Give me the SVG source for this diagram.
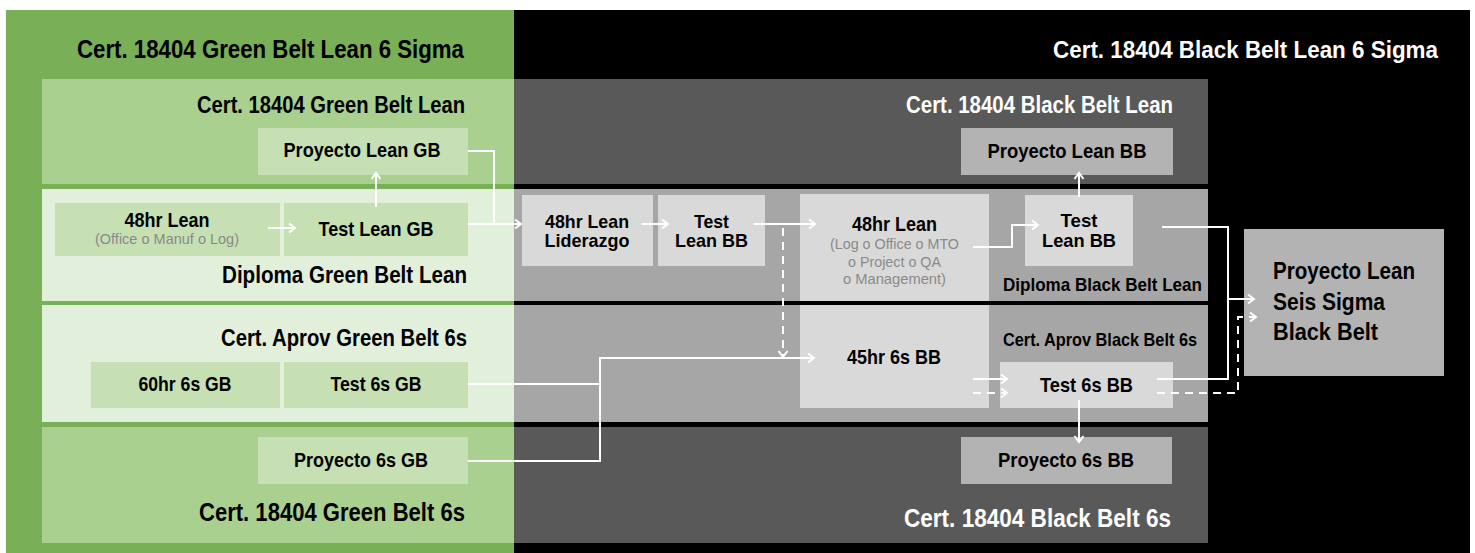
<svg xmlns="http://www.w3.org/2000/svg" width="1475" height="553" viewBox="0 0 1475 553">
<defs>
<marker id="arr" markerUnits="userSpaceOnUse" markerWidth="10" markerHeight="12" refX="8" refY="6" orient="auto">
<path d="M2,1.5 L8,6 L2,10.5" fill="none" stroke="#ffffff" stroke-width="2"/>
</marker>
<style>
text{font-family:"Liberation Sans",Arial,sans-serif;font-weight:bold;}
.t25{font-size:25px;}
.t23{font-size:23px;}
.t21{font-size:21px;}
.t19{font-size:19px;}
.t2l{font-size:19px;}
.t24{font-size:24px;}
.sub{font-size:15px;font-weight:normal;fill:#8a8a8a;}
.w{fill:#ffffff;}
.k{fill:#000000;}
.m{text-anchor:middle;}
.e{text-anchor:end;}
.gn{fill:#C6E0B4;}
.gy{fill:#D9D9D9;}
.gm{fill:#B3B3B3;}
.ln{fill:none;stroke:#ffffff;stroke-width:2;}
.ds{fill:none;stroke:#ffffff;stroke-width:2;stroke-dasharray:8 6;}
</style>
</defs>

<g id="background">
<rect x="514" y="10" width="956" height="543" fill="#000000"/>
<rect x="6" y="10" width="508" height="543" fill="#79AF57"/>
<rect x="42" y="79" width="472" height="105" fill="#A9D08E"/>
<rect x="42" y="189" width="472" height="112" fill="#E2EFDA"/>
<rect x="42" y="305" width="472" height="117" fill="#E2EFDA"/>
<rect x="42" y="427" width="472" height="116" fill="#A9D08E"/>
<rect x="514" y="79" width="694" height="105" fill="#595959"/>
<rect x="514" y="189" width="694" height="112" fill="#A6A6A6"/>
<rect x="514" y="305" width="694" height="117" fill="#A6A6A6"/>
<rect x="514" y="427" width="694" height="116" fill="#595959"/>
</g>

<g id="section-labels">
<text class="t25 k e" x="464" y="58" textLength="387" lengthAdjust="spacingAndGlyphs">Cert. 18404 Green Belt Lean 6 Sigma</text>
<text class="t23 k e" x="465" y="113" textLength="268" lengthAdjust="spacingAndGlyphs">Cert. 18404 Green Belt Lean</text>
<text class="t23 k e" x="467" y="283" textLength="245" lengthAdjust="spacingAndGlyphs">Diploma Green Belt Lean</text>
<text class="t23 k e" x="467" y="346" textLength="246" lengthAdjust="spacingAndGlyphs">Cert. Aprov Green Belt 6s</text>
<text class="t25 k e" x="465" y="521" textLength="266" lengthAdjust="spacingAndGlyphs">Cert. 18404 Green Belt 6s</text>
<text class="t24 w" x="1053" y="58" textLength="385" lengthAdjust="spacingAndGlyphs">Cert. 18404 Black Belt Lean 6 Sigma</text>
<text class="t23 w e" x="1173" y="113" textLength="267" lengthAdjust="spacingAndGlyphs">Cert. 18404 Black Belt Lean</text>
<text class="t19 k" x="1003" y="291" textLength="199" lengthAdjust="spacingAndGlyphs">Diploma Black Belt Lean</text>
<text class="t19 k" x="1003" y="346" textLength="194" lengthAdjust="spacingAndGlyphs">Cert. Aprov Black Belt 6s</text>
<text class="t25 w e" x="1171" y="527" textLength="267" lengthAdjust="spacingAndGlyphs">Cert. 18404 Black Belt 6s</text>
</g>

<g id="n-proyecto-lean-gb">
<rect class="gn" x="258" y="128" width="210" height="47"/>
<text class="t21 k m" x="362" y="157" textLength="157" lengthAdjust="spacingAndGlyphs">Proyecto Lean GB</text>
</g>
<g id="n-48hr-lean-gb">
<rect class="gn" x="55" y="203" width="225" height="53"/>
<text class="t21 k m" x="167" y="227" textLength="85" lengthAdjust="spacingAndGlyphs">48hr Lean</text>
<text class="sub m" x="167" y="244" textLength="144" lengthAdjust="spacingAndGlyphs">(Office o Manuf o Log)</text>
</g>
<g id="n-test-lean-gb">
<rect class="gn" x="284" y="203" width="184" height="53"/>
<text class="t21 k m" x="376" y="236" textLength="115" lengthAdjust="spacingAndGlyphs">Test Lean GB</text>
</g>
<g id="n-60hr-6s-gb">
<rect class="gn" x="91" y="362" width="189" height="46"/>
<text class="t21 k m" x="185" y="391" textLength="93" lengthAdjust="spacingAndGlyphs">60hr 6s GB</text>
</g>
<g id="n-test-6s-gb">
<rect class="gn" x="284" y="362" width="184" height="46"/>
<text class="t21 k m" x="376" y="391" textLength="91" lengthAdjust="spacingAndGlyphs">Test 6s GB</text>
</g>
<g id="n-proyecto-6s-gb">
<rect class="gn" x="258" y="437" width="210" height="47"/>
<text class="t21 k m" x="361" y="467" textLength="134" lengthAdjust="spacingAndGlyphs">Proyecto 6s GB</text>
</g>

<g id="n-48hr-lean-liderazgo">
<rect class="gy" x="522" y="195" width="131" height="71"/>
<text class="t2l k m" x="587" y="228" textLength="84" lengthAdjust="spacingAndGlyphs">48hr Lean</text>
<text class="t2l k m" x="587" y="247" textLength="85" lengthAdjust="spacingAndGlyphs">Liderazgo</text>
</g>
<g id="n-test-lean-bb-1">
<rect class="gy" x="658" y="195" width="107" height="71"/>
<text class="t2l k m" x="711.5" y="228" textLength="35" lengthAdjust="spacingAndGlyphs">Test</text>
<text class="t2l k m" x="711.5" y="247" textLength="73" lengthAdjust="spacingAndGlyphs">Lean BB</text>
</g>
<g id="n-48hr-lean-bb">
<rect class="gy" x="800" y="194" width="189" height="107"/>
<text class="t21 k m" x="894.5" y="231" textLength="85" lengthAdjust="spacingAndGlyphs">48hr Lean</text>
<text class="sub m" x="894.5" y="249" textLength="129" lengthAdjust="spacingAndGlyphs">(Log o Office o MTO</text>
<text class="sub m" x="894.5" y="267" textLength="93" lengthAdjust="spacingAndGlyphs">o Project o QA</text>
<text class="sub m" x="894.5" y="284" textLength="103" lengthAdjust="spacingAndGlyphs">o Management)</text>
</g>
<g id="n-45hr-6s-bb">
<rect class="gy" x="800" y="305" width="189" height="103"/>
<text class="t21 k m" x="894" y="364" textLength="94" lengthAdjust="spacingAndGlyphs">45hr 6s BB</text>
</g>
<g id="n-proyecto-lean-bb">
<rect class="gm" x="961" y="128" width="212" height="47"/>
<text class="t21 k m" x="1067" y="158" textLength="159" lengthAdjust="spacingAndGlyphs">Proyecto Lean BB</text>
</g>
<g id="n-test-lean-bb-2">
<rect class="gy" x="1025" y="195" width="108" height="71"/>
<text class="t2l k m" x="1079" y="227" textLength="37" lengthAdjust="spacingAndGlyphs">Test</text>
<text class="t2l k m" x="1079" y="247" textLength="74" lengthAdjust="spacingAndGlyphs">Lean BB</text>
</g>
<g id="n-test-6s-bb">
<rect class="gy" x="1000" y="362" width="173" height="46"/>
<text class="t21 k m" x="1086.5" y="392" textLength="93" lengthAdjust="spacingAndGlyphs">Test 6s BB</text>
</g>
<g id="n-proyecto-6s-bb">
<rect class="gm" x="961" y="437" width="211" height="47"/>
<text class="t21 k m" x="1066" y="467" textLength="136" lengthAdjust="spacingAndGlyphs">Proyecto 6s BB</text>
</g>
<g id="n-proyecto-final">
<rect class="gm" x="1244" y="229" width="200" height="147"/>
<text class="t24 k" x="1273" y="279" textLength="142" lengthAdjust="spacingAndGlyphs">Proyecto Lean</text>
<text class="t24 k" x="1273" y="310" textLength="112" lengthAdjust="spacingAndGlyphs">Seis Sigma</text>
<text class="t24 k" x="1273" y="340" textLength="105" lengthAdjust="spacingAndGlyphs">Black Belt</text>
</g>

<g id="connectors">
<path class="ln" d="M268,228 H295" marker-end="url(#arr)"/>
<path class="ln" d="M376,207 V173" marker-end="url(#arr)"/>
<path class="ln" d="M468,151 H494 V224"/>
<path class="ln" d="M468,224 H521" marker-end="url(#arr)"/>
<path class="ln" d="M642,224 H668" marker-end="url(#arr)"/>
<path class="ln" d="M754,224 H815" marker-end="url(#arr)"/>
<path class="ds" d="M783,228 V357" marker-end="url(#arr)"/>
<path class="ln" d="M468,384 H600"/>
<path class="ln" d="M468,461 H600 V358 H814" marker-end="url(#arr)"/>
<path class="ln" d="M973,379 H1007" marker-end="url(#arr)"/>
<path class="ds" d="M973,393 H1007" marker-end="url(#arr)"/>
<path class="ln" d="M973,247 H1012 V225 H1038" marker-end="url(#arr)"/>
<path class="ln" d="M1079,197 V173" marker-end="url(#arr)"/>
<path class="ln" d="M1162,227 H1228 V379 H1157"/>
<path class="ln" d="M1228,299 H1254" marker-end="url(#arr)"/>
<path class="ds" d="M1157,393 H1238 V317 H1256" marker-end="url(#arr)"/>
<path class="ln" d="M1079,400 V442" marker-end="url(#arr)"/>
</g>
</svg>
